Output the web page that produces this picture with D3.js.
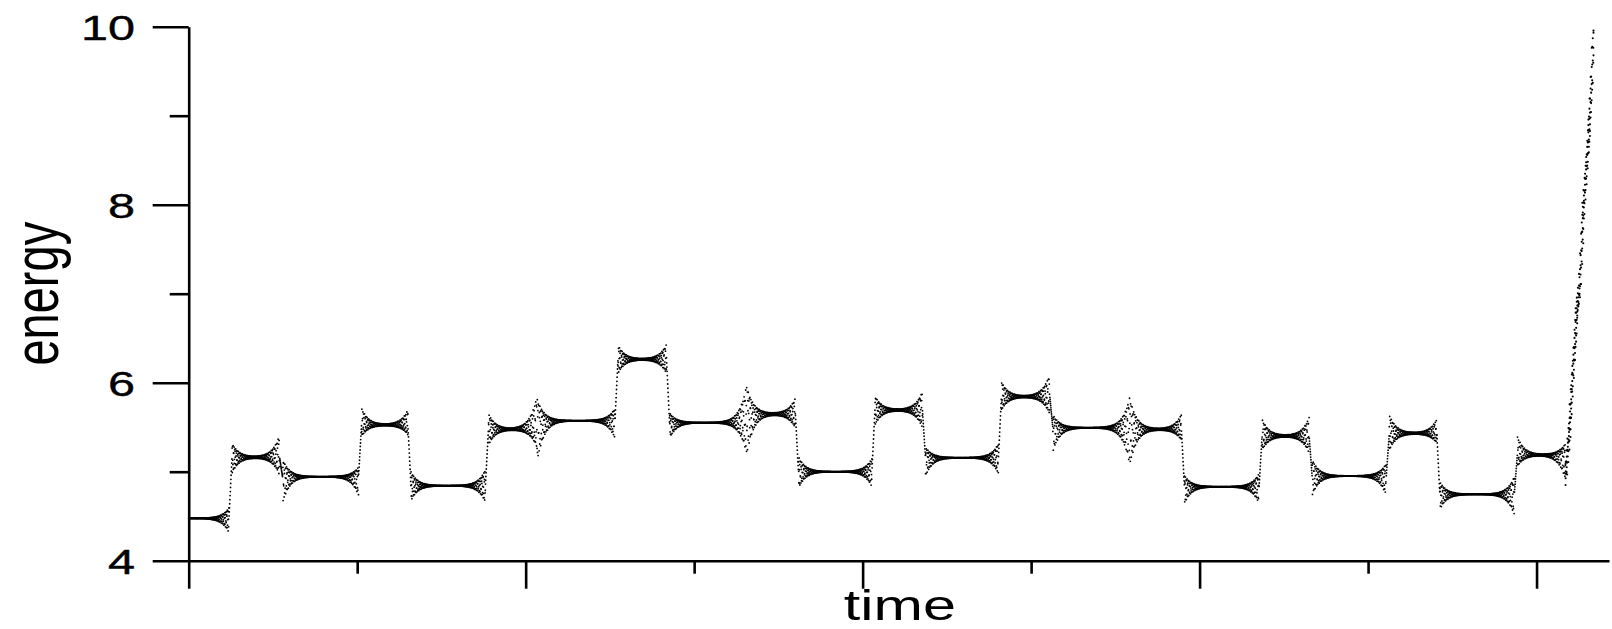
<!DOCTYPE html>
<html><head><meta charset="utf-8">
<script src="https://cdn.jsdelivr.net/npm/d3@7"></script>
<style>html,body{margin:0;padding:0;background:#fff;} svg{display:block;}</style>
</head><body>
<svg id="chart" width="1612" height="629"></svg>
<script>
// ---- data ----
const plateauLevels = [4.476, 5.162, 4.944, 5.525, 4.843, 5.476, 5.573, 6.263, 5.551, 5.648, 5.000,
                       5.693, 5.157, 5.843, 5.494, 5.476, 4.831, 5.401, 4.952, 5.431, 4.746, 5.188];
const transitionTimes = [0.248, 0.548, 1.017, 1.310, 1.770, 2.067, 2.539, 2.845, 3.313, 3.610,
                         4.064, 4.364, 4.815, 5.120, 5.586, 5.901, 6.362, 6.659, 7.117, 7.417, 7.877];
const fanLeftUp    = [0, .16, .20, .19, .16, .18, .25, .16, .11, .30, .17, .16, .12, .17, .15, .35, .13, .19, .19, .21, .14, .21];
const fanLeftDown  = [0, .18, .30, .13, .17, .18, .48, .16, .18, .45, .19, .17, .21, .15, .27, .40, .19, .16, .22, .19, .17, .13];
const fanRightUp   = [.12, .25, .11, .17, .18, .38, .14, .17, .44, .18, .15, .21, .16, .26, .35, .17, .15, .21, .14, .16, .20, .13];
const fanRightDown = [.16, .20, .21, .11, .19, .20, .20, .16, .36, .16, .17, .20, .18, .20, .42, .12, .19, .19, .22, .11, .23, .28];
const riseTimes  = [8.172, 8.185, 8.200, 8.217, 8.237, 8.255, 8.275, 8.297, 8.316, 8.328, 8.338];
const riseEnergy = [4.91, 5.25, 5.60, 6.15, 6.75, 7.05, 7.85, 8.45, 8.95, 9.40, 9.97];
const yMajorTicks = [4, 6, 8, 10];
const yMinorTicks = [5, 7, 9];
const xMajorTicks = [0, 2, 4, 6, 8];
const xMinorTicks = [1, 3, 5, 7];
const xLabel = "time";
const yLabel = "energy";

// ---- layout ----
const svg = d3.select("#chart");
const x = d3.scaleLinear().domain([0, 8.43]).range([188.7, 1609]);
const y = d3.scaleLinear().domain([4, 10]).range([560.7, 26.7]);
const pxPerUnit = x(1) - x(0);
const FONT = "'Liberation Sans', Arial, Helvetica, sans-serif";

// ---- build dotted trace ----
const dt = 1 / (5 * pxPerUnit);
const tau = 7 / pxPerUnit;
const ramp = 3 / pxPerUnit;
const PHI = 0.6180339887, PLASTIC = 0.7548776662;
const frac = v => v - Math.floor(v);
const riseStart = riseTimes[0];
const env = d => d < 0 ? 0 : Math.exp(-d / tau);
const nT = transitionTimes.length;
const isFuzzy = j => Math.abs(plateauLevels[j + 1] - plateauLevels[j]) < 0.15;

const pts = [];
let i = 0;
for (let t = 0; t < riseStart; t += dt, i++) {
  const k = d3.bisectRight(transitionTimes, t);
  let base = plateauLevels[k], inRamp = false;
  for (const j of [k - 1, k]) {
    if (j < 0 || j >= nT || isFuzzy(j)) continue;
    const T = transitionTimes[j];
    if (Math.abs(t - T) < ramp / 2) {
      const dL = plateauLevels[j + 1] - plateauLevels[j];
      base = plateauLevels[j] + dL * ((t - T) / ramp + 0.5);
      inRamp = true;
    }
  }
  let up = 0, down = 0;
  if (!inRamp) {
    if (k > 0) {
      const lb = transitionTimes[k - 1] + (isFuzzy(k - 1) ? 0 : ramp / 2);
      const e = env(t - lb);
      up += fanLeftUp[k] * e; down += fanLeftDown[k] * e;
    }
    const rb = k < nT ? transitionTimes[k] - (isFuzzy(k) ? 0 : ramp / 2) : riseStart;
    const e2 = env(rb - t);
    up += fanRightUp[k] * e2; down += fanRightDown[k] * e2;
  }
  const s = Math.sin(2 * Math.PI * PHI * i);
  pts.push({t: t, e: base + (s > 0 ? s * up : s * down), r: 0.9});
}
const riseCurve = d3.scaleLinear().domain(riseTimes).range(riseEnergy);
const riseEnd = riseTimes[riseTimes.length - 1];
for (let t = riseStart; t <= riseEnd; t += dt / 1.6, i++) {
  const s = Math.sin(2 * Math.PI * PHI * i);
  const tj = (frac(i * PLASTIC) - 0.5) * 2.6 / pxPerUnit;
  pts.push({t: Math.min(riseEnd, Math.max(riseStart, t + tj)), e: riseCurve(t) + 0.08 * s, r: 1.05});
}

svg.append("g").selectAll("circle").data(pts).join("circle")
  .attr("cx", d => x(d.t)).attr("cy", d => y(d.e)).attr("r", d => d.r).attr("fill", "#000");

// ---- axes ----
const axStyle = g => {
  g.selectAll("path, line").attr("stroke", "#000").attr("stroke-width", 2.6);
};
const yAxisG = svg.append("g").attr("transform", `translate(${x(0)},0)`);
yAxisG.call(d3.axisLeft(y).tickValues(yMajorTicks).tickSize(36).tickSizeOuter(0).tickFormat(d3.format("d")))
  .call(axStyle);
yAxisG.attr("font-size", 36).attr("font-family", FONT);
yAxisG.selectAll("text")
  .attr("x", 0).attr("dy", "0.36em")
  .attr("transform", `translate(${135 - x(0)},0) scale(1.35,1)`)
  .attr("font-size", 36).attr("font-family", FONT).attr("fill", "#000")
  .attr("stroke", "#000").attr("stroke-width", 0.4);
svg.append("g").attr("transform", `translate(${x(0)},0)`)
  .call(d3.axisLeft(y).tickValues(yMinorTicks).tickSize(19).tickSizeOuter(0).tickFormat(""))
  .call(axStyle).select(".domain").remove();

const xAxisG = svg.append("g").attr("transform", `translate(0,${y(4)})`);
xAxisG.call(d3.axisBottom(x).tickValues(xMajorTicks).tickSize(28).tickSizeOuter(0).tickFormat(""))
  .call(axStyle);
svg.append("g").attr("transform", `translate(0,${y(4)})`)
  .call(d3.axisBottom(x).tickValues(xMinorTicks).tickSize(13).tickSizeOuter(0).tickFormat(""))
  .call(axStyle).select(".domain").remove();

// ---- axis titles ----
svg.append("text")
  .attr("transform", `translate(${(x.range()[0] + x.range()[1]) / 2 + 1},619.5) scale(1.38,1)`)
  .attr("text-anchor", "middle").attr("font-size", 43).attr("font-family", FONT).attr("fill", "#000")
  .text(xLabel);
svg.append("text")
  .attr("transform", `translate(58,${(y(4) + y(10)) / 2}) scale(1.35,1) rotate(-90)`)
  .attr("text-anchor", "middle").attr("font-size", 47).attr("font-family", FONT).attr("fill", "#000")
  .text(yLabel);
</script>
</body></html>
